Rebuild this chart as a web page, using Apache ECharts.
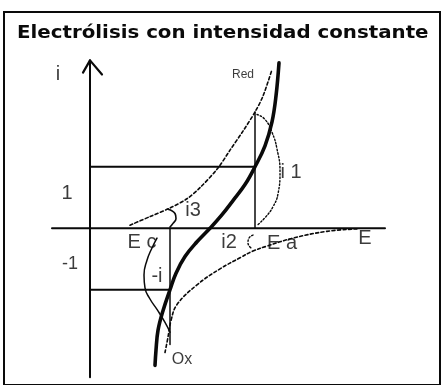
<!DOCTYPE html>
<html>
<head>
<meta charset="utf-8">
<style>
  html, body { margin: 0; padding: 0; background: #fff; }
  #chart { width: 443px; height: 385px; }
</style>
<script src="https://cdn.jsdelivr.net/npm/echarts@6/dist/echarts.min.js"></script>
</head>
<body>
<div id="chart"></div>
<script>
// Electrolysis at constant current: i–E curves of the Red and Ox branches
// and the resulting total curve, in arbitrary E / i units.

const TITLE = 'Electrólisis con intensidad constante';

// Total (measured) curve, thick line: [E, i]
const totalCurve = [
  [6.5, -2.23], [6.6, -1.98], [6.8, -1.66], [7.3, -1.34], [8.0, -1.0],
  [8.6, -0.73], [9.5, -0.46], [10.7, -0.22], [12.0, 0], [13.1, 0.2],
  [14.3, 0.45], [15.5, 0.71], [16.5, 1.0], [17.5, 1.34], [18.2, 1.73],
  [18.6, 2.15], [18.9, 2.69]
];

// Red (anodic) branch, dashed
const redCurve = [
  [4.0, 0.05], [6.0, 0.19], [8.0, 0.33], [9.7, 0.48], [11.0, 0.66],
  [12.8, 0.98], [14.0, 1.27], [15.3, 1.58], [16.5, 1.89], [17.3, 2.15],
  [18.2, 2.58]
];

// Ox (cathodic) branch, dashed
const oxCurve = [
  [26.7, -0.01], [23.7, -0.05], [20.3, -0.16], [17.7, -0.29], [16.3, -0.37],
  [15.0, -0.48], [13.0, -0.66], [10.7, -0.92], [8.7, -1.24], [8.1, -1.5],
  [7.8, -1.77], [7.5, -2.02]
];

// Braces marking the partial currents
const i1Arc = [
  [16.7, 1.85], [17.5, 1.77], [18.2, 1.56], [18.7, 1.29], [19.0, 0.92],
  [18.8, 0.56], [18.3, 0.35], [17.6, 0.19], [16.8, 0.06]
];
const i3Arc = [[7.8, 0.31], [8.5, 0.24], [8.6, 0.16], [8.3, 0.08], [8.0, 0.02]];
const i2Arc = [[16.3, -0.11], [15.9, -0.16], [15.8, -0.24], [16.1, -0.32]];
const minusIArc = [
  [6.7, -0.16], [6.2, -0.32], [5.7, -0.52], [5.4, -0.76], [5.5, -0.97],
  [6.0, -1.15], [6.7, -1.32], [7.5, -1.53], [8.0, -1.69]
];

// Axes and construction lines
const iAxisLine = [[0, -2.42], [0, 2.73]];
const eAxisLine = [[-3.8, 0], [29.5, 0]];
const arrowHead = [[-0.7, 2.53], [0, 2.73], [1.2, 2.50]];
const levelPlus = [[0, 1], [16.5, 1]];
const levelMinus = [[0, -1], [8, -1]];
const eaDrop = [[16.5, 1.89], [16.5, 0]];
const ecDrop = [[8, 0], [8, -1.89]];

// Annotation texts and their anchor points [E, i]
const labelNames = ['i', '1', '-1', 'E', 'E c', 'E a', 'i3', 'i2', 'i 1', '-i', 'Red', 'Ox'];
const labelPos = [
  [-3.2, 2.5], [-2.3, 0.56], [-2.0, -0.58], [27.5, -0.16], [5.2, -0.23],
  [19.2, -0.24], [10.3, 0.29], [13.9, -0.23], [20.1, 0.9], [6.7, -0.79],
  [15.3, 2.5], [9.2, -2.13]
];

const INK = '#0a0a0a';
const labelFontSize = { 'Red': 12, 'Ox': 16, '-1': 18 };

function path(data, width, type) {
  return {
    type: 'line', data: data, showSymbol: false, symbol: 'none',
    smooth: false, silent: true, clip: false,
    lineStyle: { color: INK, width: width, type: type || 'solid', cap: 'round', join: 'round' }
  };
}
function curve(data, width, type, smoothness) {
  const s = path(data, width, type);
  s.smooth = smoothness || 0.5;
  return s;
}

const chart = echarts.init(document.getElementById('chart'), null, { renderer: 'canvas' });

chart.setOption({
  animation: false,
  backgroundColor: '#fff',
  grid: {
    left: 4, right: 3, top: 12, bottom: -3,
    show: true, borderColor: INK, borderWidth: 2, backgroundColor: 'transparent'
  },
  xAxis: {
    type: 'value', min: -8.6, max: 35,
    axisLine: { show: false }, axisTick: { show: false },
    axisLabel: { show: false }, splitLine: { show: false }
  },
  yAxis: {
    type: 'value', min: -2.548, max: 3.516,
    axisLine: { show: false }, axisTick: { show: false },
    axisLabel: { show: false }, splitLine: { show: false }
  },
  graphic: [{
    type: 'text', x: 17, y: 33, scaleX: 1.1,
    style: {
      text: TITLE, font: 'bold 18px "DejaVu Sans"', fill: INK,
      verticalAlign: 'middle', align: 'left'
    }
  }],
  series: [
    path(iAxisLine, 2),
    path(eAxisLine, 2),
    path(arrowHead, 2.2),
    path(levelPlus, 2),
    path(levelMinus, 2),
    path(eaDrop, 1.5),
    path(ecDrop, 1.5),
    curve(redCurve, 1.6, [3, 2.5], 0.3),
    curve(oxCurve, 1.6, [3, 2.5], 0.4),
    curve(i1Arc, 1.4, [1.5, 2]),
    curve(i3Arc, 1.6),
    curve(i2Arc, 1.4, [1.5, 2]),
    curve(minusIArc, 1.5),
    curve(totalCurve, 3.6, 'solid', 0.4),
    {
      type: 'scatter', symbolSize: 0, silent: true,
      data: labelNames.map((n, k) => ({
        name: n, value: labelPos[k],
        label: { fontSize: labelFontSize[n] || 20 }
      })),
      label: {
        show: true, position: 'inside', color: INK,
        fontFamily: 'Liberation Sans',
        formatter: p => p.name
      },
      itemStyle: { color: 'transparent' }
    }
  ]
});
</script>
</body>
</html>
